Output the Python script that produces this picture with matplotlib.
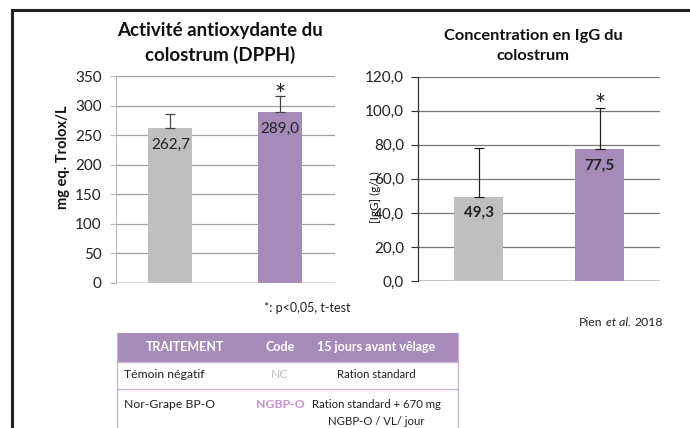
import matplotlib.pyplot as plt
from matplotlib.patches import Rectangle
from matplotlib.lines import Line2D
import numpy as np

plt.rcParams['font.family'] = ['Lato', 'DejaVu Sans']

groups = ['NC', 'NGBP-O']
dpph_vals = [262.7, 289.0]
dpph_err = [22.4, 27.6]
igg_vals = [49.3, 77.5]
igg_err = [28.6, 24.3]
bar_colors = ['#BFBFBF', '#A68BB8']

table_header = ['TRAITEMENT', 'Code', '15 jours avant vêlage']
table_rows = [
    ['Témoin négatif', 'NC', ['Ration standard']],
    ['Nor-Grape BP-O', 'NGBP-O', ['Ration standard + 670 mg', 'NGBP-O / VL/ jour']],
]
code_colors = ['#C0C0C0', '#C690D2']

W, H = 690, 428
fig = plt.figure(figsize=(W / 100, H / 100), dpi=100)


def px_axes(x0, y0, x1, y1):
    # pixel box (top-left origin) -> figure axes
    return fig.add_axes([x0 / W, 1 - y1 / H, (x1 - x0) / W, (y1 - y0) / H])


def fx(x):
    return x / W


def fy(y):
    return 1 - y / H


# frame lines
fig.add_artist(Line2D([fx(12), fx(12)], [fy(10), 0], color='#222222', lw=2.2))
fig.add_artist(Line2D([fx(12), 1], [fy(10), fy(10)], color='#222222', lw=2.2))

x = np.arange(len(groups))

# ---- left chart
ax1 = px_axes(115.5, 76, 335, 282.7)
ax1.bar(x, dpph_vals, width=0.4, color=bar_colors, zorder=2)
ax1.errorbar(x, dpph_vals, yerr=[[0, 0], dpph_err], fmt='none', ecolor='#444444',
             elinewidth=0.9, capsize=3.5, capthick=0.9, zorder=3)
ax1.set_xlim(-0.5, 1.5)
ax1.set_ylim(0, 350)
ax1.set_yticks(np.arange(0, 351, 50))
ax1.yaxis.grid(True, color='#A0A0A0', lw=0.9)
ax1.set_axisbelow(True)
ax1.set_xticks([])
for s in ['top', 'right', 'bottom']:
    ax1.spines[s].set_visible(False)
ax1.spines['left'].set_color('#BBBBBB')
ax1.spines['left'].set_linewidth(0.8)
ax1.tick_params(axis='y', length=4, color='#BBBBBB', labelsize=11, pad=6, labelcolor='#222222')
ax1.axhline(0, color='#888888', lw=1.0, zorder=1)
ax1.text(0, dpph_vals[0] - 30, '262,7', ha='center', va='center', fontsize=11, color='#222222')
ax1.text(1, dpph_vals[1] - 29, '289,0', ha='center', va='center', fontsize=11, color='#222222')
ax1.text(1, 294, '*', ha='center', va='bottom', fontsize=19, color='#222222')
fig.text(fx(220), fy(43), 'Activité antioxydante du\ncolostrum (DPPH)', ha='center', va='center',
         fontsize=13.5, fontweight='bold', color='#111111', linespacing=1.5)
fig.text(fx(63), fy(157), 'mg eq. Trolox/L', rotation=90, ha='center', va='center',
         fontsize=10.5, fontweight='bold', color='#111111')

# ---- right chart
ax2 = px_axes(418, 76.7, 660, 281)
ax2.bar(x, igg_vals, width=0.4, color=bar_colors, zorder=2)
ax2.errorbar(x, igg_vals, yerr=[[0, 0], igg_err], fmt='none', ecolor='#222222',
             elinewidth=0.9, capsize=3.5, capthick=0.9, zorder=3)
ax2.set_xlim(-0.5, 1.5)
ax2.set_ylim(0, 120)
ax2.set_yticks(np.arange(0, 121, 20))
ax2.set_yticklabels([f'{v:.1f}'.replace('.', ',') for v in np.arange(0, 121, 20)])
ax2.yaxis.grid(True, color='#777777', lw=0.9)
ax2.set_axisbelow(True)
ax2.set_xticks([])
for s in ['top', 'right', 'bottom']:
    ax2.spines[s].set_visible(False)
ax2.spines['left'].set_color('#333333')
ax2.spines['left'].set_linewidth(0.9)
ax2.tick_params(axis='y', length=5, color='#333333', labelsize=11, pad=5, labelcolor='#222222')
ax2.axhline(0, color='#333333', lw=1.0, zorder=1)
ax2.text(0, igg_vals[0] - 9.5, '49,3', ha='center', va='center', fontsize=11, fontweight='bold', color='#222222')
ax2.text(1, igg_vals[1] - 10, '77,5', ha='center', va='center', fontsize=11, fontweight='bold', color='#222222')
ax2.text(1, 95, '*', ha='center', va='bottom', fontsize=19, color='#222222')
fig.text(fx(533), fy(46), 'Concentration en IgG du\ncolostrum', ha='center', va='center',
         fontsize=11.8, fontweight='bold', color='#111111', linespacing=1.55)
fig.text(fx(375), fy(197), '[IgG] (g/L)', rotation=90, ha='center', va='center',
         fontsize=8.5, color='#111111')

# ---- notes
fig.text(fx(307), fy(308), '*: p<0,05, t-test', ha='center', va='center', fontsize=9, color='#222222')
fig.text(fx(579), fy(323), 'Pien', ha='left', va='center', fontsize=8.8, color='#222222')
fig.text(fx(606), fy(323), 'et al.', ha='left', va='center', fontsize=8.8, style='italic', color='#222222')
fig.text(fx(634), fy(323), '2018', ha='left', va='center', fontsize=8.8, color='#222222')

# ---- table
tx0, tx1 = 116.5, 458
ty = [333, 361.5, 389, 440]
line_c = '#C8B4D4'
fig.add_artist(Rectangle((fx(tx0), fy(ty[1])), fx(tx1) - fx(tx0), fy(ty[0]) - fy(ty[1]),
                         facecolor='#A68BB8', edgecolor='none'))
for yy in ty[1:3]:
    fig.add_artist(Line2D([fx(tx0), fx(tx1)], [fy(yy), fy(yy)], color=line_c, lw=1.0))
for xx in [tx0, tx1]:
    fig.add_artist(Line2D([fx(xx), fx(xx)], [fy(ty[0]), 0], color=line_c, lw=1.0))

col_x = [185, 280, 376]
hy = (ty[0] + ty[1]) / 2
for cx, h in zip(col_x, table_header):
    fig.text(fx(cx), fy(hy), h, ha='center', va='center', fontsize=9, fontweight='bold', color='white')

row_y = [374, 405]
for i, row in enumerate(table_rows):
    fig.text(fx(124), fy(row_y[i]), row[0], ha='left', va='center', fontsize=8.8, color='#222222')
    fig.text(fx(col_x[1]), fy(row_y[i]), row[1], ha='center', va='center', fontsize=8.8,
             color=code_colors[i], fontweight='bold' if i == 1 else 'normal')
    for j, line in enumerate(row[2]):
        fig.text(fx(col_x[2]), fy(row_y[i] + 16.5 * j), line, ha='center', va='center',
                 fontsize=8.2, color='#222222')

fig.savefig('out.png', dpi=100)
